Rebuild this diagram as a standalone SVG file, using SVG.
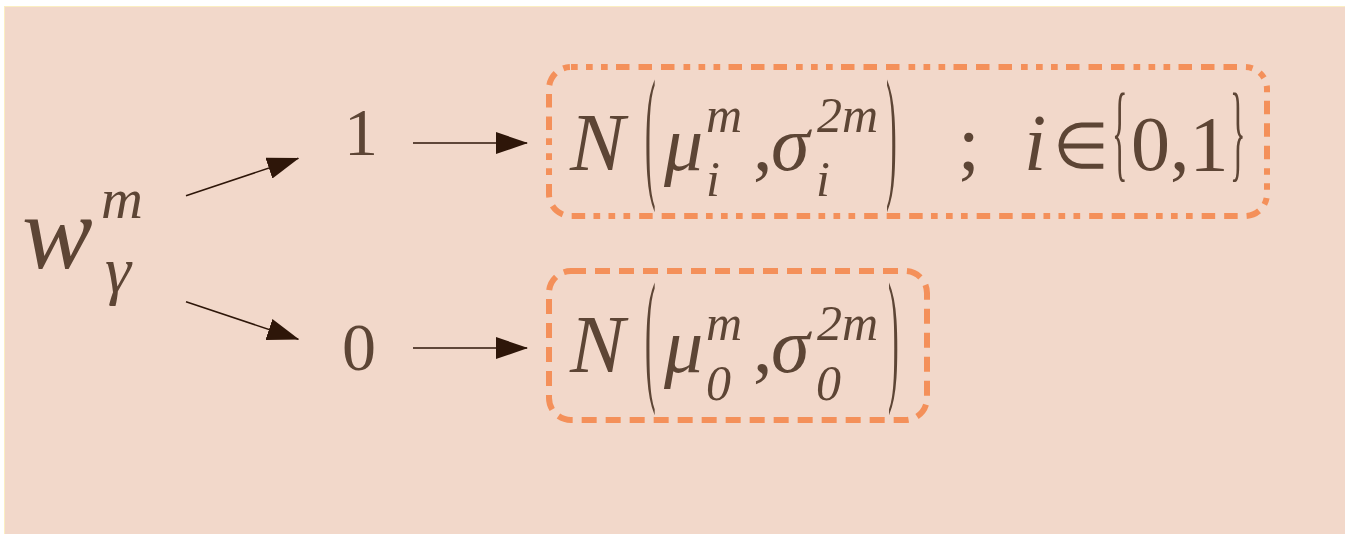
<svg xmlns="http://www.w3.org/2000/svg" width="1345" height="534" viewBox="0 0 1345 534">
<defs>
<style>
.t{fill:#5d4535;font-family:"Liberation Serif",serif}
.it{font-style:italic}
.conn line{stroke:#2e1609;stroke-width:1.5}
.box{fill:none;stroke:#f4905a;stroke-width:6}
</style>
<marker id="ah" viewBox="0 0 32 22" refX="31" refY="11" markerWidth="32" markerHeight="22" markerUnits="userSpaceOnUse" orient="auto">
<path d="M0,0 L32,11 L0,22 z" fill="#2e1609"/>
</marker>
</defs>
<rect x="0" y="0" width="1345" height="534" fill="#ffffff"/>
<rect x="4.5" y="6.5" width="1345" height="530" fill="#f2d8ca" stroke="#fbeec2" stroke-width="1"/>

<g id="node-w">
<text class="t it" x="22" y="268" font-size="106">w</text>
<text class="t it" x="101" y="218" font-size="58">m</text>
<text class="t it" x="105" y="292" font-size="66">γ</text>
</g>

<g id="node-1"><text class="t" x="344" y="155" font-size="68">1</text></g>
<g id="node-0"><text class="t" x="342" y="370" font-size="68">0</text></g>

<g id="node-box1">
<rect class="box" x="549" y="67" width="718" height="149" rx="22" stroke-dasharray="6.7 8.3 6.7 8.3 6.7 8.3 13.5 9 13.5 9 13.5 9"/>
<text class="t it" x="570" y="170" font-size="82">N</text>
<text class="t" transform="translate(645,181) scale(0.22,1)" font-size="146">(</text>
<text class="t it" x="664" y="170" font-size="78">μ</text>
<text class="t it" x="706" y="132" font-size="50">m</text>
<text class="t it" x="706" y="196" font-size="50">i</text>
<text class="t" x="753" y="170" font-size="78">,</text>
<text class="t it" x="771" y="170" font-size="78">σ</text>
<text class="t it" x="817" y="132" font-size="50">2m</text>
<text class="t it" x="816" y="196" font-size="50">i</text>
<text class="t" transform="translate(886,181) scale(0.22,1)" font-size="146">)</text>
<text class="t" x="958" y="170" font-size="78">;</text>
<text class="t it" x="1024" y="170" font-size="80">i</text>
<text class="t" x="1053" y="168" font-size="64">∈</text>
<text class="t" transform="translate(1112,168) scale(0.3,1)" font-size="108">{</text>
<text class="t" x="1131" y="170" font-size="78">0,1</text>
<text class="t" transform="translate(1230,168) scale(0.3,1)" font-size="108">}</text>
</g>

<g id="node-box2">
<rect class="box" x="549" y="271" width="378" height="149" rx="22" stroke-dasharray="15 9"/>
<text class="t it" x="570" y="372" font-size="82">N</text>
<text class="t" transform="translate(645,384) scale(0.22,1)" font-size="146">(</text>
<text class="t it" x="664" y="372" font-size="78">μ</text>
<text class="t it" x="706" y="340" font-size="50">m</text>
<text class="t it" x="706" y="400" font-size="50">0</text>
<text class="t" x="753" y="372" font-size="78">,</text>
<text class="t it" x="771" y="372" font-size="78">σ</text>
<text class="t it" x="817" y="340" font-size="50">2m</text>
<text class="t it" x="816" y="400" font-size="50">0</text>
<text class="t" transform="translate(888,384) scale(0.22,1)" font-size="146">)</text>
</g>

<g id="connectors" class="conn">
<line x1="186" y1="195.7" x2="298.3" y2="158.3" marker-end="url(#ah)"/>
<line x1="186" y1="301.7" x2="298.3" y2="339.3" marker-end="url(#ah)"/>
<line x1="413" y1="143" x2="527" y2="143" marker-end="url(#ah)"/>
<line x1="413" y1="348" x2="527" y2="348" marker-end="url(#ah)"/>
</g>
</svg>
